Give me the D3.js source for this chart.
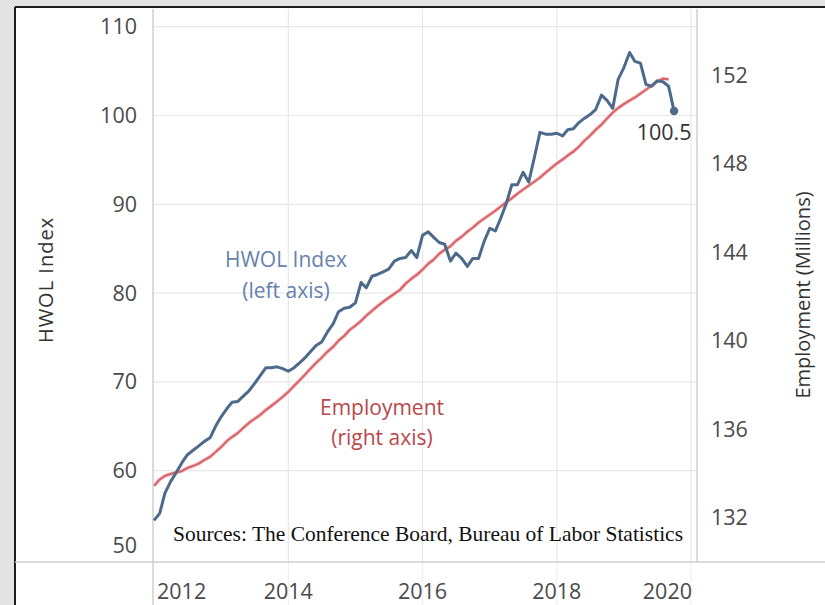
<!DOCTYPE html>
<html>
<head>
<meta charset="utf-8">
<script src="https://cdn.jsdelivr.net/npm/d3@7"></script>
<style>
  html, body { margin: 0; padding: 0; background: #e6e6e6; }
  svg { display: block; }
</style>
</head>
<body>
<svg id="chart" width="825" height="605"></svg>
<script>
// ---------------- DATA ----------------
const startMonth = "2012-01";
const endMonthExclusive = "2019-11";
const hwolIndex = [54.4,55.2,57.5,58.8,59.8,60.9,61.8,62.3,62.8,63.3,
  63.7,65.0,66.1,67.0,67.7,67.8,68.4,69.0,69.8,70.7,
  71.6,71.6,71.7,71.5,71.2,71.6,72.1,72.7,73.4,74.1,
  74.5,75.6,76.5,77.9,78.3,78.4,78.9,81.2,80.6,81.9,
  82.1,82.4,82.7,83.6,83.9,84.0,84.8,84.0,86.5,86.9,
  86.3,85.7,85.5,83.6,84.5,83.9,83.0,83.9,83.9,85.8,
  87.3,87.0,88.4,90.1,92.2,92.2,93.6,92.5,95.3,98.1,
  97.9,97.9,98.0,97.7,98.4,98.5,99.2,99.7,100.1,100.7,
  102.3,101.7,100.8,104.1,105.4,107.1,106.1,105.9,103.5,103.3,
  103.9,103.8,103.3,100.5];
const employment = [133.43,133.72,133.88,133.97,134.04,134.10,134.24,134.33,134.44,134.60,
  134.74,134.96,135.19,135.46,135.64,135.82,136.05,136.28,136.46,136.64,
  136.86,137.05,137.25,137.45,137.68,137.95,138.18,138.45,138.72,138.99,
  139.22,139.49,139.71,139.99,140.21,140.48,140.67,140.89,141.12,141.34,
  141.55,141.75,141.93,142.11,142.29,142.57,142.79,142.97,143.20,143.47,
  143.65,143.92,144.10,144.26,144.51,144.69,144.92,145.10,145.33,145.51,
  145.69,145.87,146.05,146.25,146.43,146.64,146.82,147.00,147.18,147.36,
  147.59,147.79,148.00,148.18,148.36,148.54,148.76,149.04,149.26,149.53,
  149.76,150.03,150.30,150.51,150.69,150.85,150.98,151.16,151.34,151.52,
  151.71,151.84,151.80];
const xTickYears = ["2012","2014","2016","2018","2020"];
const leftTicks = [50,60,70,80,90,100,110];
const rightTicks = [132,136,140,144,148,152];
const lastLabel = "100.5";

// ---------------- SETUP ----------------
const parse = d3.timeParse("%Y-%m");
const months = d3.timeMonth.range(parse(startMonth), parse(endMonthExclusive));
const hwolData = hwolIndex.map((v, i) => ({ date: months[i], v }));
const empData = employment.map((v, i) => ({ date: months[i], v }));

const svg = d3.select("#chart");
const W = 825, H = 605;
const plotL = 153, plotR = 697, plotT = 9, plotB = 562;

const x = d3.scaleTime()
  .domain([parse("2012-01"), parse("2020-01")])
  .range([154, 691]);
const yL = d3.scaleLinear().domain([50, 110]).range([559.5, 26.7]);
const yR = d3.scaleLinear().domain([132, 152]).range([517.5, 75]);

const font = "'Open Sans', 'Noto Sans', sans-serif";

// frame
svg.append("rect").attr("x", 0).attr("y", 0).attr("width", W).attr("height", H).attr("fill", "#e4e4e4");
svg.append("rect").attr("x", 15).attr("y", 7).attr("width", W - 15).attr("height", H - 7).attr("fill", "#ffffff");
svg.append("line").attr("x1", 15).attr("x2", W).attr("y1", 7).attr("y2", 7).attr("stroke", "#1e1e1e").attr("stroke-width", 2);
svg.append("line").attr("x1", 15).attr("x2", 15).attr("y1", 7).attr("y2", H).attr("stroke", "#1e1e1e").attr("stroke-width", 2);

// horizontal gridlines (left axis ticks)
svg.append("g").selectAll("line").data(leftTicks.filter(t => t > 50)).join("line")
  .attr("x1", plotL).attr("x2", plotR)
  .attr("y1", d => yL(d)).attr("y2", d => yL(d))
  .attr("stroke", "#e8e8e8").attr("stroke-width", 1.2);

// vertical gridlines (year)
const yearDates = xTickYears.map(y => parse(y + "-01"));
svg.append("g").selectAll("line").data(yearDates.slice(1)).join("line")
  .attr("x1", d => x(d)).attr("x2", d => x(d))
  .attr("y1", plotT).attr("y2", plotB)
  .attr("stroke", "#e8e8e8").attr("stroke-width", 1.2);
svg.append("g").selectAll("line").data(yearDates.slice(1)).join("line")
  .attr("x1", d => x(d)).attr("x2", d => x(d))
  .attr("y1", plotB).attr("y2", H)
  .attr("stroke", "#f1f1f1").attr("stroke-width", 1.2);

// axis lines
svg.append("line").attr("x1", plotL).attr("x2", plotL).attr("y1", plotT).attr("y2", H)
  .attr("stroke", "#cfcfcf").attr("stroke-width", 1.5);
svg.append("line").attr("x1", plotR).attr("x2", plotR).attr("y1", plotT).attr("y2", plotB)
  .attr("stroke", "#cfcfcf").attr("stroke-width", 1.5);
svg.append("line").attr("x1", 15).attr("x2", W).attr("y1", plotB).attr("y2", plotB)
  .attr("stroke", "#cfcfcf").attr("stroke-width", 1.5);

// left tick labels
svg.append("g").selectAll("text").data(leftTicks).join("text")
  .attr("x", 137)
  .attr("y", d => d === 50 ? yL(d) - 14 : yL(d))
  .attr("dy", "0.35em")
  .attr("text-anchor", "end")
  .attr("font-family", font).attr("font-size", 21.5).attr("fill", "#4a4a4a")
  .text(d => d);

// right tick labels
svg.append("g").selectAll("text").data(rightTicks).join("text")
  .attr("x", 711)
  .attr("y", d => yR(d))
  .attr("dy", "0.35em")
  .attr("text-anchor", "start")
  .attr("font-family", font).attr("font-size", 21.5).attr("fill", "#4a4a4a")
  .text(d => d);

// x tick labels
svg.append("g").selectAll("text").data(xTickYears).join("text")
  .attr("x", (d, i) => i === 0 ? 157 : (i === xTickYears.length - 1 ? 692 : x(parse(d + "-01"))))
  .attr("y", 591)
  .attr("dy", "0.35em")
  .attr("text-anchor", (d, i) => i === 0 ? "start" : (i === xTickYears.length - 1 ? "end" : "middle"))
  .attr("font-family", font).attr("font-size", 21.5).attr("fill", "#4a4a4a")
  .text(d => d);

// axis titles
svg.append("text")
  .attr("transform", "translate(53,280) rotate(-90)")
  .attr("text-anchor", "middle")
  .attr("font-family", font).attr("font-size", 20).attr("fill", "#333")
  .attr("letter-spacing", 1)
  .text("HWOL Index");
svg.append("text")
  .attr("transform", "translate(810,295) rotate(-90)")
  .attr("text-anchor", "middle")
  .attr("font-family", font).attr("font-size", 20).attr("fill", "#333")
  .text("Employment (Millions)");

// lines
const lineL = d3.line().x(d => x(d.date)).y(d => yL(d.v));
const lineR = d3.line().x(d => x(d.date)).y(d => yR(d.v));

svg.append("path").datum(empData)
  .attr("d", lineR).attr("fill", "none")
  .attr("stroke", "#f6d9d9").attr("stroke-width", 4.2).attr("stroke-linejoin", "round");
svg.append("path").datum(empData)
  .attr("d", lineR).attr("fill", "none")
  .attr("stroke", "#d9666c").attr("stroke-width", 2.3).attr("stroke-linejoin", "round");

svg.append("path").datum(hwolData)
  .attr("d", lineL).attr("fill", "none")
  .attr("stroke", "#4d6a8b").attr("stroke-width", 3).attr("stroke-linejoin", "round");

const last = hwolData[hwolData.length - 1];
svg.append("circle").attr("cx", x(last.date)).attr("cy", yL(last.v)).attr("r", 4.2).attr("fill", "#4d6a8b");
svg.append("text")
  .attr("x", x(last.date) - 10).attr("y", yL(last.v) + 29)
  .attr("text-anchor", "middle")
  .attr("font-family", font).attr("font-size", 21.5).attr("fill", "#333")
  .text(lastLabel);

// annotations
const ann = svg.append("g").attr("font-family", font).attr("font-size", 21).attr("text-anchor", "middle");
ann.append("text").attr("x", 286).attr("y", 267).attr("fill", "#6582ac").text("HWOL Index");
ann.append("text").attr("x", 286).attr("y", 298).attr("fill", "#6582ac").text("(left axis)");
ann.append("text").attr("x", 382).attr("y", 415).attr("fill", "#b9474c").text("Employment");
ann.append("text").attr("x", 382).attr("y", 445).attr("fill", "#b9474c").text("(right axis)");

// sources
svg.append("text")
  .attr("x", 173).attr("y", 541)
  .attr("font-family", "'Liberation Serif', 'Times New Roman', serif")
  .attr("font-size", 21.5).attr("fill", "#111")
  .attr("textLength", 510).attr("lengthAdjust", "spacingAndGlyphs")
  .text("Sources: The Conference Board, Bureau of Labor Statistics");
</script>
</body>
</html>
